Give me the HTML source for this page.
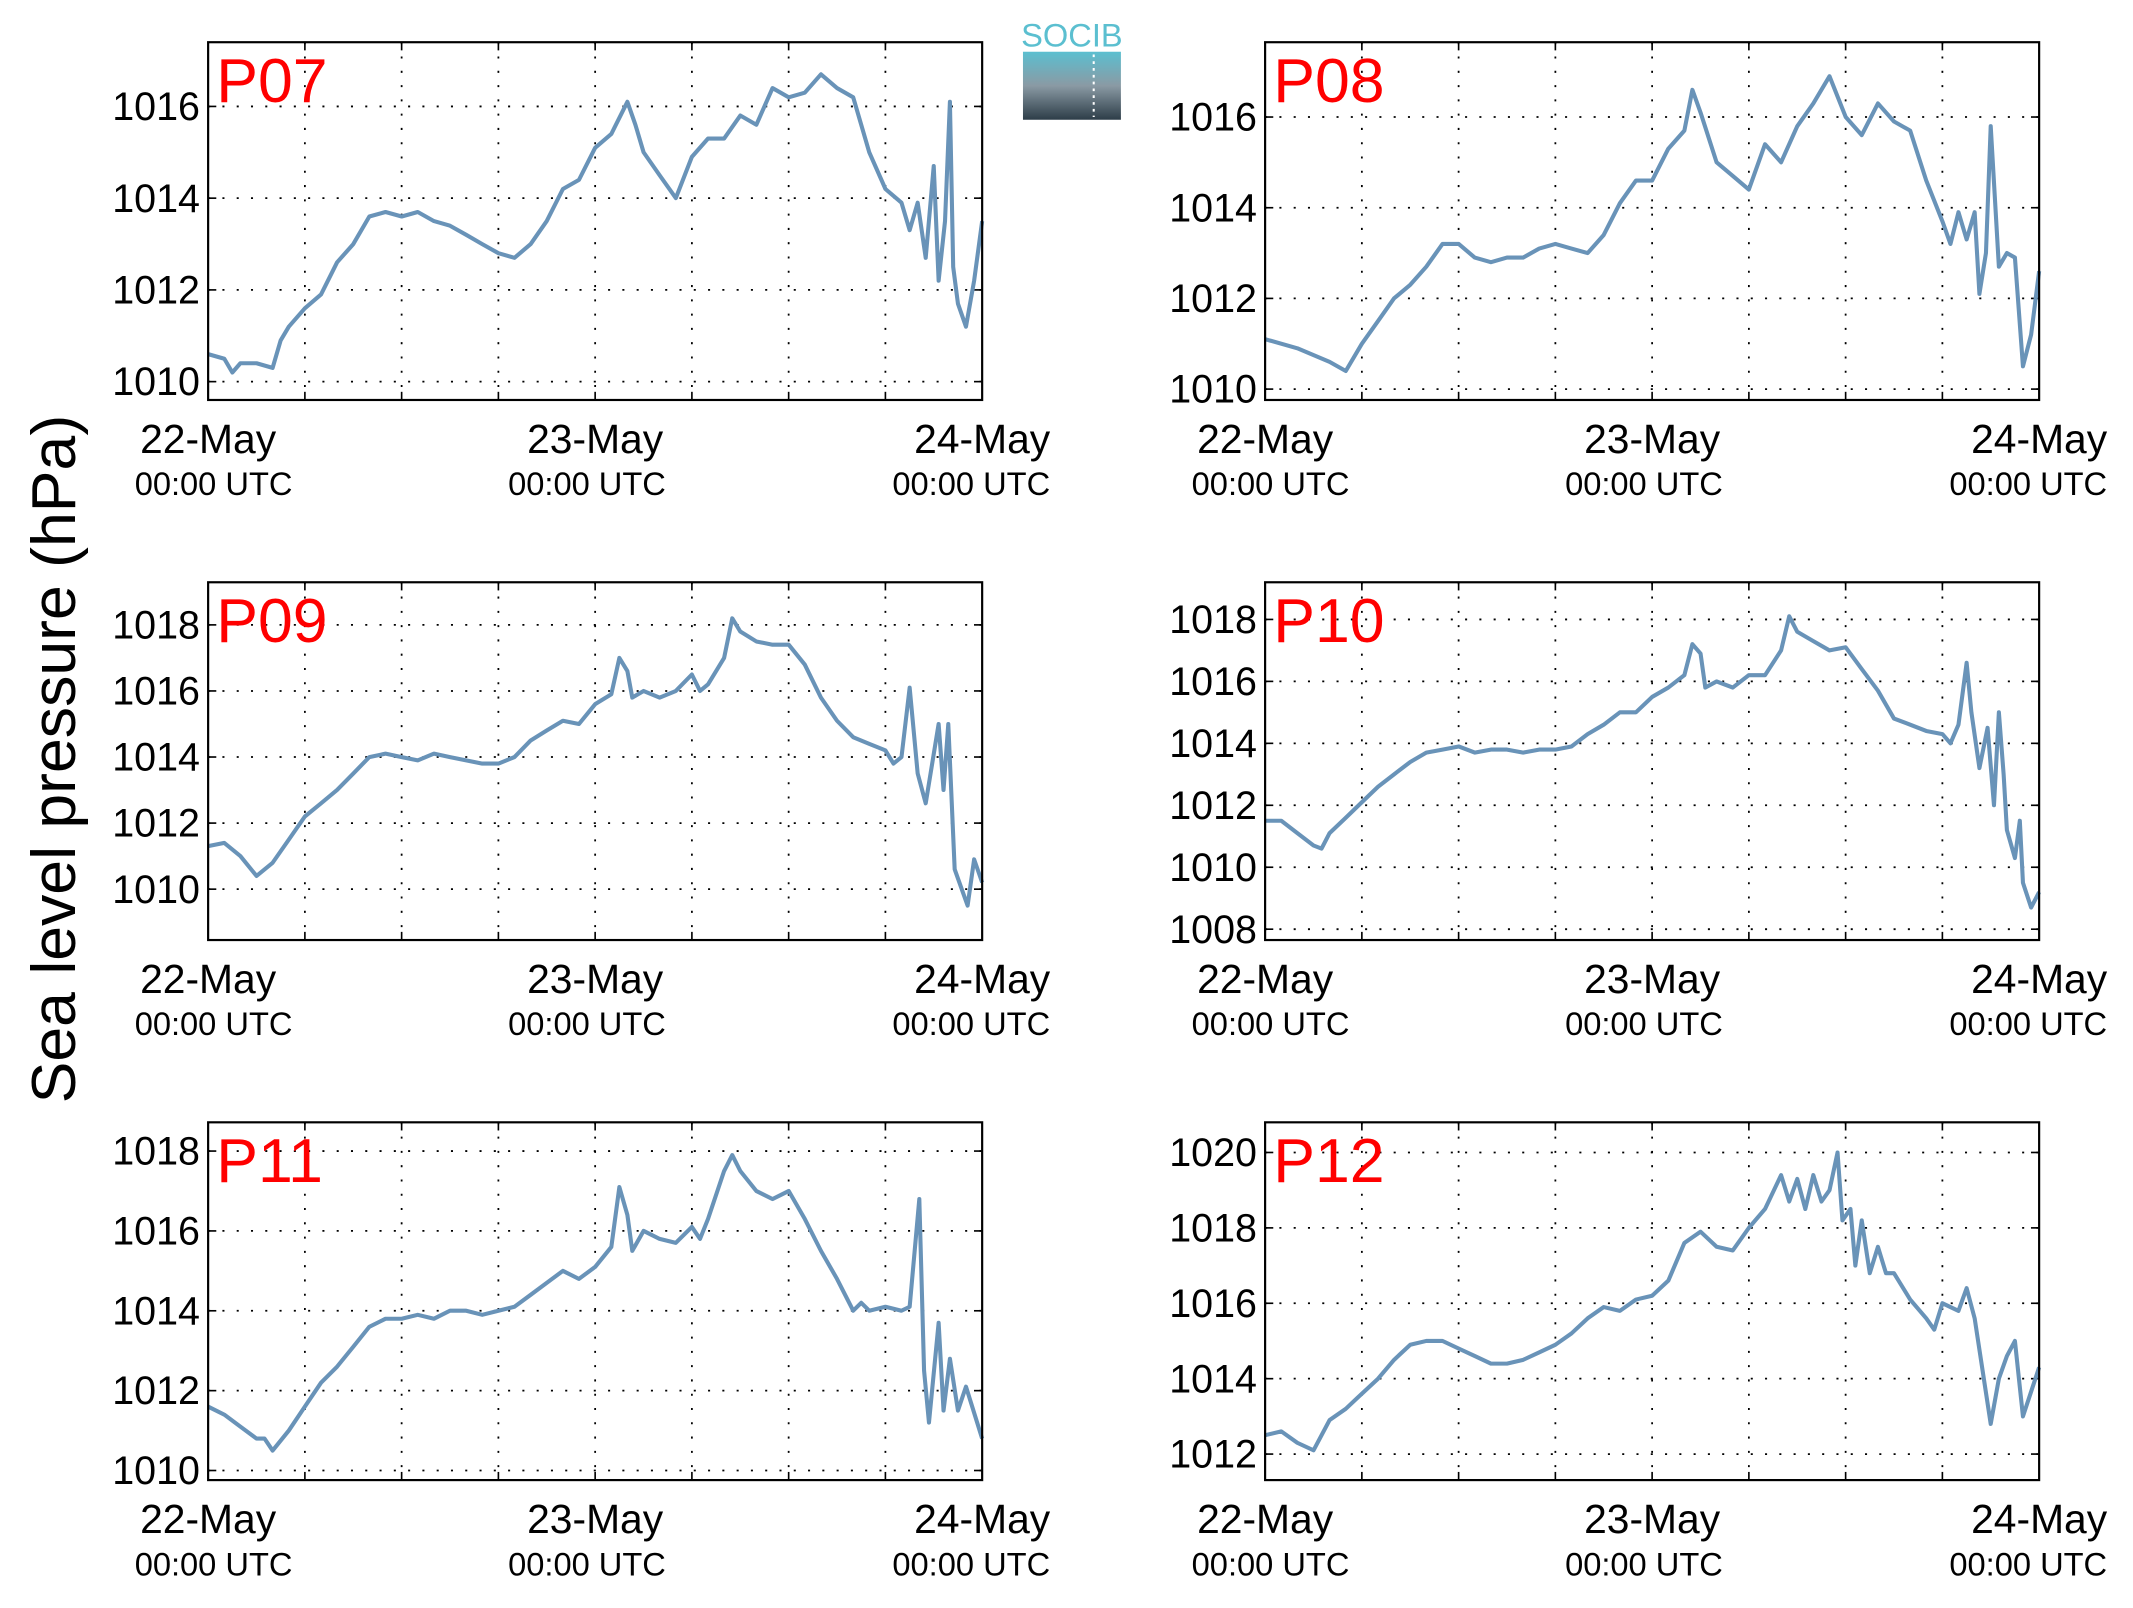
<!DOCTYPE html>
<html><head><meta charset="utf-8"><style>
html,body{margin:0;padding:0;background:#fff}
svg{display:block}
text{font-family:"Liberation Sans",Arial,sans-serif}
</style></head><body>
<svg id="c" width="2133" height="1608" viewBox="0 0 1568 1182" xmlns="http://www.w3.org/2000/svg">
<defs><linearGradient id="lg" x1="0" y1="0" x2="0" y2="1"><stop offset="0" stop-color="#5bbfd0"/><stop offset="0.5" stop-color="#8a9aa4"/><stop offset="1" stop-color="#2d3d48"/></linearGradient></defs>
<g>
<text x="788" y="34" font-size="24" fill="#5bbfd0" text-anchor="middle">SOCIB</text>
<rect x="752" y="38" width="72" height="50" fill="url(#lg)"/>
<line x1="804" y1="40" x2="804" y2="86" stroke="#fff" stroke-width="1.5" stroke-dasharray="2,3"/>
</g>
<text transform="translate(55,558) rotate(-90)" font-size="46" text-anchor="middle">Sea level pressure (hPa)</text>
</svg>
<script>
const panelNames=["P07","P08","P09","P10","P11","P12"];
const t07=[0,1,1.5,2,3,4,4.5,5,6,7,8,9,10,11,12,13,14,15,16,17,18,19,20,21,22,23,24,25,26,26.5,27,28,29,30,31,32,33,34,35,36,37,38,39,40,41,42,43,43.5,44,44.5,45,45.3,45.7,46,46.2,46.5,47,47.5,48];
const v07=[1010.6,1010.5,1010.2,1010.4,1010.4,1010.3,1010.9,1011.2,1011.6,1011.9,1012.6,1013.0,1013.6,1013.7,1013.6,1013.7,1013.5,1013.4,1013.2,1013.0,1012.8,1012.7,1013.0,1013.5,1014.2,1014.4,1015.1,1015.4,1016.1,1015.6,1015.0,1014.5,1014.0,1014.9,1015.3,1015.3,1015.8,1015.6,1016.4,1016.2,1016.3,1016.7,1016.4,1016.2,1015.0,1014.2,1013.9,1013.3,1013.9,1012.7,1014.7,1012.2,1013.5,1016.1,1012.5,1011.7,1011.2,1012.2,1013.5];
const t08=[0,2,4,5,6,7,8,9,10,11,12,13,14,15,16,17,18,19,20,21,22,23,24,25,26,26.5,27,28,29,30,31,32,33,34,35,36,37,38,39,40,41,42,42.5,43,43.5,44,44.3,44.7,45,45.5,46,46.5,47,47.5,48];
const v08=[1011.1,1010.9,1010.6,1010.4,1011.0,1011.5,1012.0,1012.3,1012.7,1013.2,1013.2,1012.9,1012.8,1012.9,1012.9,1013.1,1013.2,1013.1,1013.0,1013.4,1014.1,1014.6,1014.6,1015.3,1015.7,1016.6,1016.1,1015.0,1014.7,1014.4,1015.4,1015.0,1015.8,1016.3,1016.9,1016.0,1015.6,1016.3,1015.9,1015.7,1014.6,1013.7,1013.2,1013.9,1013.3,1013.9,1012.1,1013.0,1015.8,1012.7,1013.0,1012.9,1010.5,1011.2,1012.6];
const t09=[0,1,2,3,4,5,6,7,8,9,10,11,12,13,14,15,16,17,18,19,20,21,22,23,24,25,25.5,26,26.3,27,28,29,30,30.5,31,32,32.5,33,34,35,36,37,38,39,40,41,42,42.5,43,43.5,44,44.5,45.3,45.6,45.9,46.3,47.1,47.5,48];
const v09=[1011.3,1011.4,1011.0,1010.4,1010.8,1011.5,1012.2,1012.6,1013.0,1013.5,1014.0,1014.1,1014.0,1013.9,1014.1,1014.0,1013.9,1013.8,1013.8,1014.0,1014.5,1014.8,1015.1,1015.0,1015.6,1015.9,1017.0,1016.6,1015.8,1016.0,1015.8,1016.0,1016.5,1016.0,1016.2,1017.0,1018.2,1017.8,1017.5,1017.4,1017.4,1016.8,1015.8,1015.1,1014.6,1014.4,1014.2,1013.8,1014.0,1016.1,1013.5,1012.6,1015.0,1013.0,1015.0,1010.6,1009.5,1010.9,1010.2];
const t10=[0,1,2,3,3.5,4,5,6,7,8,9,10,11,12,13,14,15,16,17,18,19,20,21,22,23,24,25,26,26.5,27,27.3,28,29,30,31,32,32.5,33,34,35,36,37,38,39,40,41,42,42.5,43,43.5,43.8,44.3,44.8,45.2,45.5,45.8,46,46.5,46.8,47,47.5,48];
const v10=[1011.5,1011.5,1011.1,1010.7,1010.6,1011.1,1011.6,1012.1,1012.6,1013.0,1013.4,1013.7,1013.8,1013.9,1013.7,1013.8,1013.8,1013.7,1013.8,1013.8,1013.9,1014.3,1014.6,1015.0,1015.0,1015.5,1015.8,1016.2,1017.2,1016.9,1015.8,1016.0,1015.8,1016.2,1016.2,1017.0,1018.1,1017.6,1017.3,1017.0,1017.1,1016.4,1015.7,1014.8,1014.6,1014.4,1014.3,1014.0,1014.6,1016.6,1015.0,1013.2,1014.5,1012.0,1015.0,1013.0,1011.2,1010.3,1011.5,1009.5,1008.7,1009.2];
const t11=[0,1,2,3,3.5,4,5,6,7,8,9,10,11,12,13,14,15,16,17,18,19,20,21,22,23,24,25,25.5,26,26.3,27,28,29,30,30.5,31,32,32.5,33,34,35,36,37,38,39,40,40.5,41,42,43,43.5,44.1,44.4,44.7,45.3,45.6,46,46.5,47,48];
const v11=[1011.6,1011.4,1011.1,1010.8,1010.8,1010.5,1011.0,1011.6,1012.2,1012.6,1013.1,1013.6,1013.8,1013.8,1013.9,1013.8,1014.0,1014.0,1013.9,1014.0,1014.1,1014.4,1014.7,1015.0,1014.8,1015.1,1015.6,1017.1,1016.4,1015.5,1016.0,1015.8,1015.7,1016.1,1015.8,1016.3,1017.5,1017.9,1017.5,1017.0,1016.8,1017.0,1016.3,1015.5,1014.8,1014.0,1014.2,1014.0,1014.1,1014.0,1014.1,1016.8,1012.5,1011.2,1013.7,1011.5,1012.8,1011.5,1012.1,1010.8];
const t12=[0,1,2,3,4,5,6,7,8,9,10,11,12,13,14,15,16,17,18,19,20,21,22,23,24,25,26,27,28,29,30,31,32,32.5,33,33.5,34,34.5,35,35.5,35.8,36.3,36.6,37,37.5,38,38.5,39,40,41,41.5,42,43,43.5,44,45,45.5,46,46.5,47,48];
const v12=[1012.5,1012.6,1012.3,1012.1,1012.9,1013.2,1013.6,1014.0,1014.5,1014.9,1015.0,1015.0,1014.8,1014.6,1014.4,1014.4,1014.5,1014.7,1014.9,1015.2,1015.6,1015.9,1015.8,1016.1,1016.2,1016.6,1017.6,1017.9,1017.5,1017.4,1018.0,1018.5,1019.4,1018.7,1019.3,1018.5,1019.4,1018.7,1019.0,1020.0,1018.2,1018.5,1017.0,1018.2,1016.8,1017.5,1016.8,1016.8,1016.1,1015.6,1015.3,1016.0,1015.8,1016.4,1015.6,1012.8,1014.0,1014.6,1015.0,1013.0,1014.3];
const yTicks07=[1010,1012,1014,1016];
const yTicks08=[1010,1012,1014,1016];
const yTicks09=[1010,1012,1014,1016,1018];
const yTicks10=[1008,1010,1012,1014,1016,1018];
const yTicks11=[1010,1012,1014,1016,1018];
const yTicks12=[1012,1014,1016,1018,1020];
const xTickLabels=["22-May","23-May","24-May"];
const xTickSub="00:00 UTC";
const yMin=[1009.6,1009.76,1008.46,1007.65,1009.76,1011.31];
const yMax=[1017.4,1017.65,1019.29,1019.2,1018.72,1020.8];

const times=[t07,t08,t09,t10,t11,t12];
const vals=[v07,v08,v09,v10,v11,v12];
const yt=[yTicks07,yTicks08,yTicks09,yTicks10,yTicks11,yTicks12];
const subOff=[4,-6,-8];
const NS="http://www.w3.org/2000/svg";
const svg=document.getElementById('c');
function mk(tag,attrs,parent){const e=document.createElementNS(NS,tag);for(const k in attrs)e.setAttribute(k,attrs[k]);parent.appendChild(e);return e;}
const lefts=[153,930],tops=[31,428,825],W=569,H=263;
panelNames.forEach((name,i)=>{
  const L=lefts[i%2],T=tops[Math.floor(i/2)];
  const g=mk('g',{},svg);
  
  
  const xs=h=>L+h/48*W;
  const ys=v=>T+H-(v-yMin[i])/(yMax[i]-yMin[i])*H;
  for(let h=6;h<48;h+=6){
    const gl=mk('line',{x1:xs(h),x2:xs(h),y1:T,y2:T+H,stroke:'#000','stroke-width':1.3,'stroke-dasharray':'1.5,9'},g);
    
    
    mk('line',{x1:xs(h),x2:xs(h),y1:T+H,y2:T+H-6,stroke:'#000','stroke-width':1.2},g);
    mk('line',{x1:xs(h),x2:xs(h),y1:T,y2:T+6,stroke:'#000','stroke-width':1.2},g);
  }
  yt[i].forEach(v=>{
    const y=ys(v);
    const gl=mk('line',{x1:L,x2:L+W,y1:y,y2:y,stroke:'#000','stroke-width':1.3,'stroke-dasharray':'1.5,9'},g);
    
    
    mk('line',{x1:L,x2:L+6,y1:y,y2:y,stroke:'#000','stroke-width':1.2},g);
    mk('line',{x1:L+W-6,x2:L+W,y1:y,y2:y,stroke:'#000','stroke-width':1.2},g);
    const tl=mk('text',{x:L-6,y:y+10,'font-size':29,'text-anchor':'end'},g);
    tl.textContent=v;
    
    
  });
  xTickLabels.forEach((lab,k)=>{
    const x=xs(k*24);
    const a=mk('text',{x:x,y:T+H+39,'font-size':30,'text-anchor':'middle'},g);
    a.textContent=lab;
    
    
    const b=mk('text',{x:x+subOff[k],y:T+H+70,'font-size':24,'text-anchor':'middle'},g);
    b.textContent=xTickSub;
    
    
  });
  let d='';
  times[i].forEach((h,k)=>{d+=(k?'L':'M')+xs(h).toFixed(1)+','+ys(vals[i][k]).toFixed(1);});
  const p=mk('path',{d:d,fill:'none',stroke:'#6993b8','stroke-width':3,'stroke-linejoin':'round'},g);
  
  
  const fr=mk('rect',{x:L,y:T,width:W,height:H,fill:'none',stroke:'#000','stroke-width':1.6},g);
  
  
  const tt=mk('text',{x:L+6,y:T+44,'font-size':46,fill:'#ff0000'},g);
  tt.textContent=name;
  
  
});
</script>
</body></html>
